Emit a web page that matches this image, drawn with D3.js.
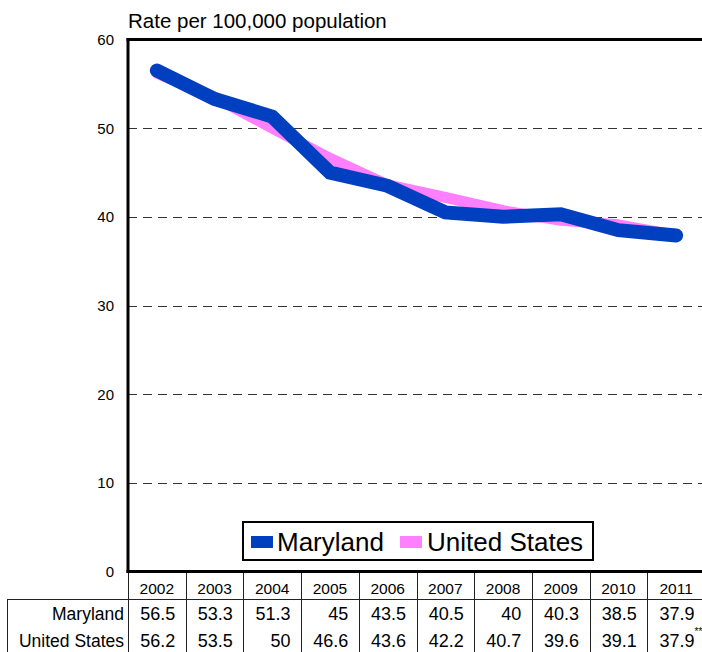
<!DOCTYPE html>
<html>
<head>
<meta charset="utf-8">
<script src="https://cdn.jsdelivr.net/npm/d3@7"></script>
<style>
  html, body { margin: 0; padding: 0; background: #fff; }
  svg { display: block; font-family: "Liberation Sans", Arial, sans-serif; }
</style>
</head>
<body>
<svg id="chart" width="702" height="652"></svg>
<script>
// Rates per 100,000 population, 2002–2011
const years = ["2002", "2003", "2004", "2005", "2006", "2007", "2008", "2009", "2010", "2011"];
const maryland = [56.5, 53.3, 51.3, 45, 43.5, 40.5, 40, 40.3, 38.5, 37.9];
const unitedStates = [56.2, 53.5, 50, 46.6, 43.6, 42.2, 40.7, 39.6, 39.1, 37.9];
const yTicks = [0, 10, 20, 30, 40, 50, 60];

const seriesNames = ["Maryland", "United States"];
const seriesColors = { "Maryland": "#0040C0", "United States": "#FF80FF" };

const svg = d3.select("#chart");

const plotLeft = 128, plotRight = 705, plotTop = 39.5, plotBottom = 571.5;

const x = d3.scaleBand().domain(years).range([plotLeft, plotRight]).paddingInner(0).paddingOuter(0);
const y = d3.scaleLinear().domain([0, 60]).range([plotBottom, plotTop]);

// Title above the plot
svg.append("text")
  .attr("x", 128).attr("y", 28)
  .attr("font-size", 20.5)
  .text("Rate per 100,000 population");

// Dashed gridlines
svg.append("g").selectAll("line")
  .data(yTicks.filter(t => t > 0 && t < 60))
  .join("line")
  .attr("x1", plotLeft).attr("x2", plotRight)
  .attr("y1", d => Math.round(y(d)) + 0.5).attr("y2", d => Math.round(y(d)) + 0.5)
  .attr("stroke", "#333").attr("stroke-width", 1)
  .attr("stroke-dasharray", "9,6");

// Y axis tick labels
svg.append("g").selectAll("text")
  .data(yTicks)
  .join("text")
  .attr("x", 114)
  .attr("y", d => y(d))
  .attr("dy", "0.36em")
  .attr("text-anchor", "end")
  .attr("font-size", 15)
  .text(d => d);

// Plot frame (left, top, bottom)
const frame = svg.append("g").attr("stroke", "#000").attr("stroke-width", 3).attr("fill", "none");
frame.append("line").attr("x1", plotLeft).attr("x2", plotLeft).attr("y1", plotTop - 1.5).attr("y2", plotBottom + 1.5);
frame.append("line").attr("x1", plotLeft - 1.5).attr("x2", plotRight).attr("y1", plotTop).attr("y2", plotTop);
frame.append("line").attr("x1", plotLeft - 1.5).attr("x2", plotRight).attr("y1", plotBottom).attr("y2", plotBottom);

// Series lines
const cx = d => x(d) + x.bandwidth() / 2;
const line = d3.line().x(d => cx(d.year)).y(d => y(d.value));
const usData = years.map((yr, i) => ({ year: yr, value: unitedStates[i] }));
const mdData = years.map((yr, i) => ({ year: yr, value: maryland[i] }));

svg.append("path")
  .datum(usData)
  .attr("d", line)
  .attr("fill", "none")
  .attr("stroke", seriesColors["United States"])
  .attr("stroke-width", 11)
  .attr("stroke-linecap", "round")
  .attr("stroke-linejoin", "round");

svg.append("path")
  .datum(mdData)
  .attr("d", line)
  .attr("fill", "none")
  .attr("stroke", seriesColors["Maryland"])
  .attr("stroke-width", 14)
  .attr("stroke-linecap", "round")
  .attr("stroke-linejoin", "miter");

// Legend
const legend = svg.append("g");
legend.append("rect")
  .attr("x", 243).attr("y", 522).attr("width", 350).attr("height", 38)
  .attr("fill", "#fff").attr("stroke", "#000").attr("stroke-width", 2);
const legendItems = [
  { name: "Maryland", sx: 251, tx: 277 },
  { name: "United States", sx: 400, tx: 427 }
];
legendItems.forEach(it => {
  legend.append("rect")
    .attr("x", it.sx).attr("y", 536).attr("width", 22).attr("height", 12)
    .attr("fill", seriesColors[it.name]);
  legend.append("text")
    .attr("x", it.tx).attr("y", 551)
    .attr("font-size", 26)
    .text(it.name);
});

// Data table below the axis
const table = svg.append("g");
const tableTop = 573, headerLine = 599.5, tableBottom = 652;
const boundaries = years.map(yr => x(yr));
table.selectAll("line.col")
  .data(boundaries)
  .join("line")
  .attr("class", "col")
  .attr("x1", d => Math.round(d) + 0.5).attr("x2", d => Math.round(d) + 0.5)
  .attr("y1", tableTop).attr("y2", tableBottom)
  .attr("stroke", "#222").attr("stroke-width", 1);
table.append("line")
  .attr("x1", 7).attr("x2", plotRight)
  .attr("y1", headerLine).attr("y2", headerLine)
  .attr("stroke", "#222").attr("stroke-width", 1);
table.append("line")
  .attr("x1", 7.5).attr("x2", 7.5)
  .attr("y1", headerLine).attr("y2", tableBottom)
  .attr("stroke", "#222").attr("stroke-width", 1);

// Year header
table.selectAll("text.year")
  .data(years)
  .join("text")
  .attr("class", "year")
  .attr("x", d => cx(d))
  .attr("y", 594)
  .attr("text-anchor", "middle")
  .attr("font-size", 15.5)
  .text(d => d);

// Value rows
const rows = [
  { name: "Maryland", values: maryland, baseline: 620 },
  { name: "United States", values: unitedStates, baseline: 647 }
];
rows.forEach(r => {
  table.append("text")
    .attr("x", 124).attr("y", r.baseline)
    .attr("text-anchor", "end")
    .attr("font-size", 17.5)
    .text(r.name);
  table.selectAll(null)
    .data(r.values)
    .join("text")
    .attr("x", (d, i) => x(years[i]) + x.bandwidth() - 10.5)
    .attr("y", r.baseline)
    .attr("text-anchor", "end")
    .attr("font-size", 18)
    .text(d => d);
});

// Footnote marker beside the final United States value
table.append("text")
  .attr("x", 694.5).attr("y", 635)
  .attr("font-size", 10)
  .text("**");
</script>
</body>
</html>
